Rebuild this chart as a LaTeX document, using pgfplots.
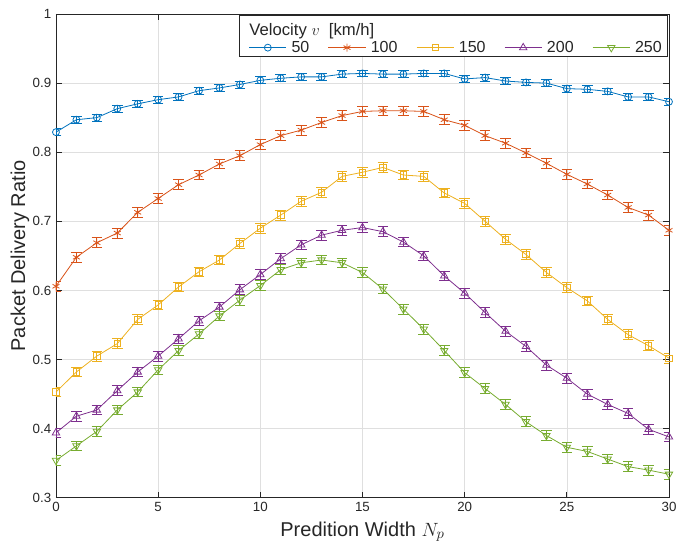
\documentclass[border=0pt]{standalone}
\usepackage{pgfplots}
\pgfplotsset{compat=1.18}
\usepackage{pgfplotstable}
\usepackage{fontspec}
\setmainfont{Liberation Sans}

\definecolor{mblue}{rgb}{0,0.447,0.741}
\definecolor{mred}{rgb}{0.85,0.325,0.098}
\definecolor{myellow}{rgb}{0.929,0.694,0.125}
\definecolor{mpurple}{rgb}{0.494,0.184,0.556}
\definecolor{mgreen}{rgb}{0.466,0.674,0.188}
\definecolor{axgray}{rgb}{0.15,0.15,0.15}
\definecolor{gridgray}{rgb}{0.875,0.875,0.875}

\pgfplotstableread{
x v50 v100 v150 v200 v250
0 0.829 0.606 0.453 0.394 0.354
1 0.847 0.648 0.482 0.418 0.375
2 0.850 0.669 0.505 0.427 0.396
3 0.863 0.683 0.523 0.455 0.427
4 0.870 0.713 0.558 0.482 0.453
5 0.876 0.733 0.579 0.505 0.485
6 0.880 0.753 0.605 0.530 0.513
7 0.889 0.767 0.627 0.556 0.537
8 0.893 0.783 0.644 0.576 0.563
9 0.898 0.795 0.668 0.601 0.586
10 0.904 0.811 0.690 0.623 0.607
11 0.907 0.824 0.709 0.646 0.630
12 0.909 0.832 0.729 0.666 0.640
13 0.909 0.843 0.742 0.680 0.644
14 0.913 0.853 0.765 0.687 0.640
15 0.914 0.859 0.771 0.691 0.626
16 0.913 0.860 0.778 0.685 0.602
17 0.913 0.860 0.767 0.670 0.573
18 0.914 0.859 0.765 0.650 0.544
19 0.914 0.847 0.741 0.621 0.513
20 0.906 0.839 0.726 0.596 0.481
21 0.908 0.824 0.700 0.568 0.458
22 0.903 0.813 0.674 0.541 0.435
23 0.901 0.799 0.652 0.519 0.410
24 0.900 0.784 0.626 0.492 0.390
25 0.892 0.768 0.604 0.473 0.373
26 0.891 0.754 0.585 0.450 0.367
27 0.888 0.738 0.558 0.435 0.356
28 0.880 0.720 0.536 0.422 0.345
29 0.880 0.709 0.520 0.399 0.340
30 0.873 0.687 0.502 0.388 0.334
}\datatab

\begin{document}
\begin{tikzpicture}
\begin{axis}[
    name=ax,
    scale only axis,
    width=460pt, height=363pt,
    xmin=0, xmax=30, ymin=0.3, ymax=1,
    xtick={0,5,...,30},
    ytick={0.3,0.4,...,1.0},
    yticklabel style={/pgf/number format/fixed, /pgf/number format/precision=1},
    /pgf/number format/assume math mode=true,
    tick align=inside,
    major tick length=4.5pt,
    grid=major,
    grid style={gridgray, line width=0.5pt},
    axis line style={axgray, line width=0.6pt},
    every tick/.style={axgray, line width=0.6pt},
    tick label style={font=\fontsize{10}{12}\selectfont, text=axgray},
    xlabel={Predition Width $N_p$},
    ylabel={Packet Delivery Ratio},
    every axis x label/.style={at={(rel axis cs:0.5,0)}, yshift=-25.5pt, anchor=center,
        font=\fontsize{15}{18}\selectfont, text=axgray},
    every axis y label/.style={at={(rel axis cs:0,0.5)}, xshift=-27pt, rotate=90, anchor=center,
        font=\fontsize{15}{18}\selectfont, text=axgray},
    every axis plot/.append style={line width=0.6pt, mark options={solid, line width=0.6pt}},
    error bars/error bar style={line width=0.6pt},
    error bars/error mark options={rotate=90, mark size=4pt, line width=0.6pt},
    legend columns=5,
    legend style={at={(0.312,0.908)}, anchor=south west, draw=none, fill=none,
        font=\fontsize{12}{14}\selectfont, text=axgray, inner sep=1pt,
        /tikz/every odd column/.append style={column sep=1.6pt},
        /tikz/every even column/.append style={column sep=12pt}},
    legend cell align=left,
    legend image code/.code={\draw[mark repeat=2,mark phase=2] plot coordinates {(0cm,0cm) (0.49cm,0cm) (0.98cm,0cm)};},
]
\addplot[mblue, mark=o, mark size=2.6pt, error bars/.cd, y dir=both, y fixed=0.005] table[x=x, y=v50] {\datatab};
\addlegendentry{50}
\addplot[mred, mark=asterisk, mark size=3pt, error bars/.cd, y dir=both, y fixed=0.007] table[x=x, y=v100] {\datatab};
\addlegendentry{100}
\addplot[myellow, mark=square, mark size=2.4pt, error bars/.cd, y dir=both, y fixed=0.007] table[x=x, y=v150] {\datatab};
\addlegendentry{150}
\addplot[mpurple, mark=triangle, mark size=3.2pt, error bars/.cd, y dir=both, y fixed=0.007] table[x=x, y=v200] {\datatab};
\addlegendentry{200}
\addplot[mgreen, mark=triangle, mark size=3.2pt, mark options={rotate=180}, error bars/.cd, y dir=both, y fixed=0.007] table[x=x, y=v250] {\datatab};
\addlegendentry{250}
\draw[axgray, fill=white, line width=0.6pt] (rel axis cs:0.300,0.913) rectangle (rel axis cs:0.997,0.998);
\node[anchor=west, font=\fontsize{12.5}{14}\selectfont, text=axgray] at (rel axis cs:0.308,0.965) {Velocity $v$\ \ [km/h]};
\end{axis}
\pgfresetboundingbox
\path ([xshift=-42pt, yshift=-37.5pt]ax.south west) rectangle ([xshift=6pt, yshift=10.5pt]ax.north east);
\end{tikzpicture}
\end{document}
